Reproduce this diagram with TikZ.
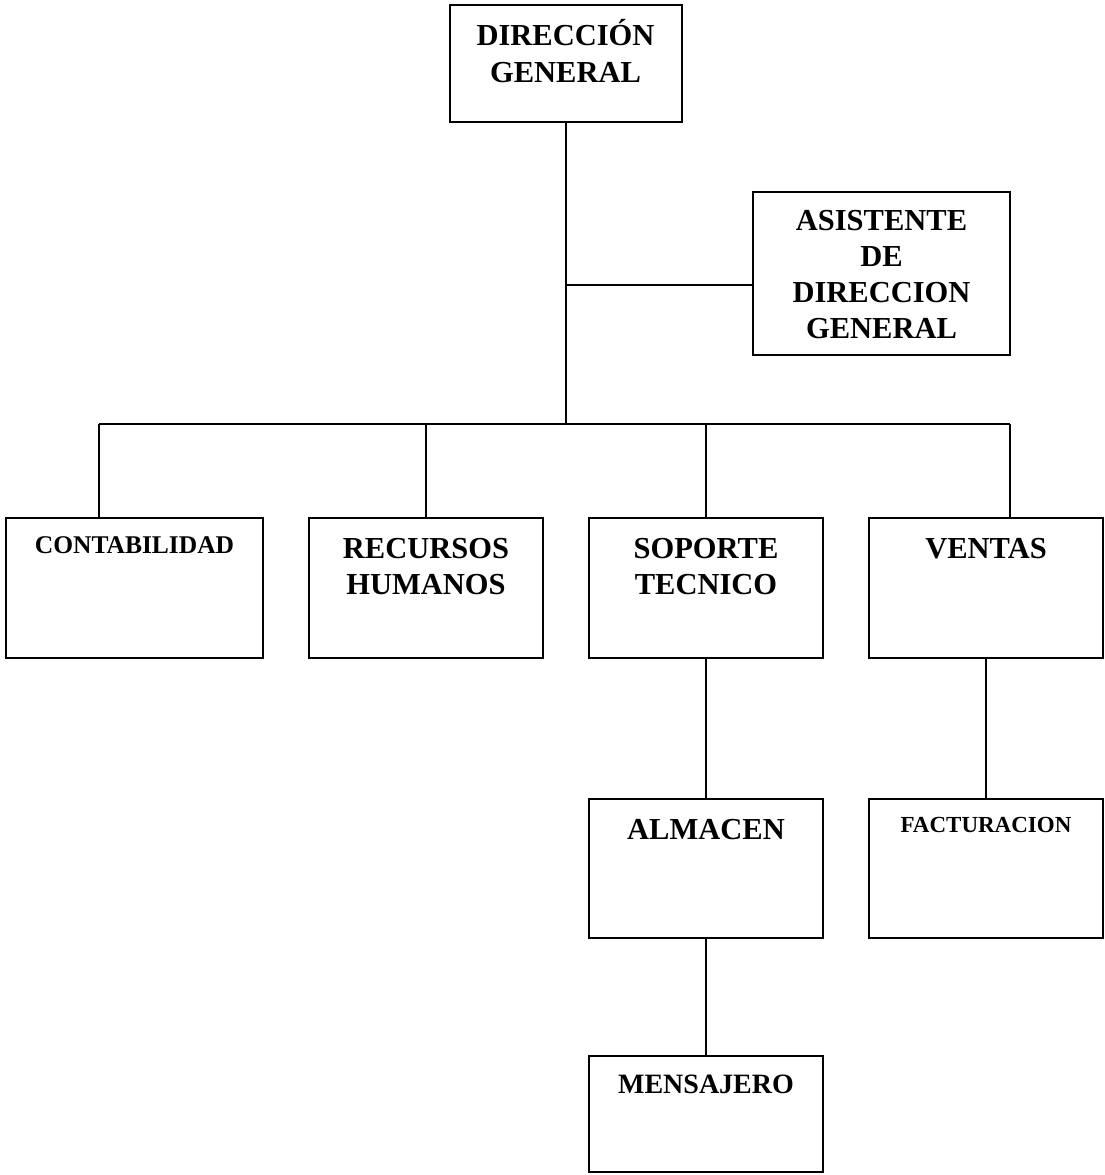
\documentclass[tikz,border=0pt]{standalone}
\usepackage{fontspec}
\setmainfont{Liberation Serif}
\begin{document}
\begin{tikzpicture}[x=1pt,y=-1pt,
  box/.style={draw=black,line width=1.5pt,inner sep=0pt,outer sep=0pt,rectangle},
  conn/.style={draw=black,line width=1.4pt},
  big/.style={font=\bfseries\fontsize{30.5}{36.5}\selectfont,align=center,anchor=base,inner sep=0pt},
]
\useasboundingbox (0,0) rectangle (1104,1175);
% boxes
\node[box,minimum width=232pt,minimum height=117pt] (dg) at (566,63.5) {};
\node[box,minimum width=257pt,minimum height=163pt] (ast) at (881.5,273.5) {};
\node[box,minimum width=257pt,minimum height=140pt] (cont) at (134.5,588) {};
\node[box,minimum width=234pt,minimum height=140pt] (rh) at (426,588) {};
\node[box,minimum width=234pt,minimum height=140pt] (st) at (706,588) {};
\node[box,minimum width=234pt,minimum height=140pt] (ven) at (986,588) {};
\node[box,minimum width=234pt,minimum height=139pt] (alm) at (706,868.5) {};
\node[box,minimum width=234pt,minimum height=139pt] (fac) at (986,868.5) {};
\node[box,minimum width=234pt,minimum height=116pt] (men) at (706,1114) {};
% texts (anchor = baseline of last line)
\node[big] (dgt) at (565.5,82) {DIRECCIÓN\\GENERAL};
\node[big,font=\bfseries\fontsize{30.5}{36}\selectfont] (astt) at (881.5,338) {ASISTENTE\\DE\\DIRECCION\\GENERAL};
\node[big,font=\bfseries\fontsize{25.5}{30}\selectfont] (contt) at (134.5,553) {CONTABILIDAD};
\node[big,font=\bfseries\fontsize{30.5}{36}\selectfont] (rht) at (426,594) {RECURSOS\\HUMANOS};
\node[big,font=\bfseries\fontsize{30.5}{36}\selectfont] (stt) at (706,594) {SOPORTE\\TECNICO};
\node[big] (vent) at (986,558) {VENTAS};
\node[big] (almt) at (706,839) {ALMACEN};
\node[big,font=\bfseries\fontsize{23}{28}\selectfont] (fact) at (986,832) {FACTURACION};
\node[big,font=\bfseries\fontsize{28}{33}\selectfont] (ment) at (706,1093) {MENSAJERO};
% connector points
\coordinate (busL) at (99,424);
\coordinate (busR) at (1010,424);
\coordinate (aj) at (566,285);
% connectors
\draw[conn] (dg.south) -- (dg.south |- busL);
\draw[conn] (aj) -- (aj -| ast.west);
\draw[conn] (busL) -- (busR);
\draw[conn] (busL) -- (busL |- cont.north);
\draw[conn] (rh.north) -- (rh.north |- busL);
\draw[conn] (st.north) -- (st.north |- busL);
\draw[conn] (busR) -- (busR |- ven.north);
\draw[conn] (st.south) -- (alm.north);
\draw[conn] (ven.south) -- (fac.north);
\draw[conn] (alm.south) -- (men.north);
\end{tikzpicture}
\end{document}
